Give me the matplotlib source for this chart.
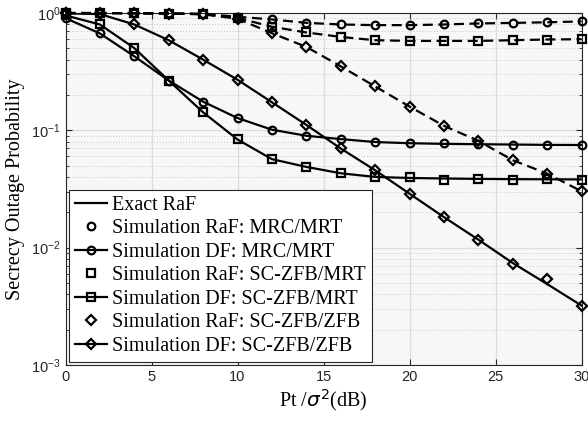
"""
Secrecy outage probability vs Pt/sigma^2
"""
import matplotlib
matplotlib.use("Agg")
import matplotlib.pyplot as plt
from matplotlib.lines import Line2D
from matplotlib.ticker import LogLocator, NullFormatter

plt.rcParams["font.family"] = ["Liberation Sans", "DejaVu Sans"]
plt.rcParams["mathtext.fontset"] = "dejavusans"

snr_db = [0, 2, 4, 6, 8, 10, 12, 14, 16, 18, 20, 22, 24, 26, 28, 30]

# RaF (lower, solid) - exact curve and simulation markers
raf_mrc_exact = [0.90, 0.667, 0.426, 0.265, 0.175, 0.127, 0.101, 0.0897, 0.084, 0.0793,
                 0.0775, 0.0765, 0.076, 0.0755, 0.075, 0.0748]
raf_mrc_sim = [0.90, 0.667, 0.426, 0.265, 0.175, 0.127, 0.101, 0.0897, 0.084, 0.0793,
               0.0773, 0.0773, 0.076, 0.0752, 0.0745, 0.0745]
raf_sczf_mrt_exact = [0.95, 0.795, 0.50, 0.265, 0.142, 0.0834, 0.0567, 0.0487, 0.043, 0.0400,
                      0.0392, 0.0388, 0.0385, 0.0383, 0.0382, 0.0381]
raf_sczf_mrt_sim = [0.95, 0.795, 0.50, 0.265, 0.142, 0.0834, 0.0567, 0.0487, 0.043, 0.0400,
                    0.0400, 0.0376, 0.0385, 0.0380, 0.0385, 0.0376]
raf_sczf_zfb_exact = [0.99, 0.975, 0.795, 0.584, 0.399, 0.269, 0.173, 0.111, 0.0699, 0.0456,
                      0.0288, 0.0182, 0.0117, 0.0074, 0.0049, 0.00321]
raf_sczf_zfb_sim = [0.99, 0.975, 0.795, 0.584, 0.399, 0.269, 0.173, 0.111, 0.0699, 0.0456,
                    0.0288, 0.0182, 0.0117, 0.00724, 0.00545, 0.00321]

# DF (upper, dashed)
df_mrc = [0.995, 0.995, 0.99, 0.99, 0.98, 0.925, 0.877, 0.821, 0.795, 0.785,
          0.785, 0.795, 0.811, 0.82, 0.83, 0.844]
df_sczf_mrt = [0.995, 0.995, 0.99, 0.985, 0.975, 0.905, 0.76, 0.68, 0.623, 0.584,
               0.576, 0.576, 0.576, 0.584, 0.592, 0.596]
df_sczf_zfb = [0.995, 0.995, 0.99, 0.985, 0.97, 0.89, 0.67, 0.512, 0.35, 0.236,
               0.159, 0.109, 0.0812, 0.0556, 0.0427, 0.0302]

legend_labels = ["Exact RaF",
                 "Simulation RaF: MRC/MRT",
                 "Simulation DF: MRC/MRT",
                 "Simulation RaF: SC-ZFB/MRT",
                 "Simulation DF: SC-ZFB/MRT",
                 "Simulation RaF: SC-ZFB/ZFB",
                 "Simulation DF: SC-ZFB/ZFB"]

fig = plt.figure(figsize=(5.88, 4.26), dpi=100)
ax = fig.add_axes([0.1114, 0.143, 0.8776, 0.827])
ax.set_facecolor("#f7f7f7")

lw = 1.6
ms = 5.5
mew = 1.6
dash = (4.5, 2.5)

# exact RaF curves
for y in (raf_mrc_exact, raf_sczf_mrt_exact, raf_sczf_zfb_exact):
    ax.plot(snr_db, y, color="black", lw=lw, zorder=3)

# RaF simulation markers
for y, m in ((raf_mrc_sim, "o"), (raf_sczf_mrt_sim, "s"), (raf_sczf_zfb_sim, "D")):
    ax.plot(snr_db, y, ls="none", marker=m, ms=ms if m != "D" else ms - 0.5, mfc="none",
            mec="black", mew=mew, zorder=4, clip_on=False)

# DF curves
for y, m in ((df_mrc, "o"), (df_sczf_mrt, "s"), (df_sczf_zfb, "D")):
    ax.plot(snr_db, y, color="black", lw=lw, dashes=dash, marker=m,
            ms=ms if m != "D" else ms - 0.5, mfc="none", mec="black", mew=mew,
            zorder=4, clip_on=False)

ax.set_yscale("log")
ax.set_xlim(0, 30)
ax.set_ylim(1e-3, 1)
ax.set_xticks([0, 5, 10, 15, 20, 25, 30])
ax.yaxis.set_major_locator(LogLocator(base=10, numticks=10))
ax.yaxis.set_minor_locator(LogLocator(base=10, subs=range(2, 10), numticks=10))
ax.yaxis.set_minor_formatter(NullFormatter())

ax.grid(True, which="major", color="#dcdcdc", lw=0.9, ls="-")
ax.grid(True, which="minor", axis="y", color="#c8c8c8", lw=0.7, ls=(0, (1, 2)))
ax.set_axisbelow(True)

ax.tick_params(which="both", direction="in", top=True, right=True, colors="#262626",
               labelsize=10.5, labelcolor="#262626")
ax.tick_params(which="major", length=4)
ax.tick_params(which="minor", length=2.5)
for s in ax.spines.values():
    s.set_color("#262626")
    s.set_linewidth(0.8)

ax.set_xlabel(r"Pt /$\sigma^2$(dB)", family="Liberation Serif", fontsize=14.5, labelpad=2)
ax.set_ylabel("Secrecy Outage Probability", family="Liberation Serif", fontsize=14.5, labelpad=4)

handles = [
    Line2D([], [], color="black", lw=lw),
    Line2D([], [], ls="none", marker="o", ms=ms, mfc="none", mec="black", mew=mew),
    Line2D([], [], color="black", lw=lw, marker="o", ms=ms, mfc="none", mec="black", mew=mew),
    Line2D([], [], ls="none", marker="s", ms=ms, mfc="none", mec="black", mew=mew),
    Line2D([], [], color="black", lw=lw, marker="s", ms=ms, mfc="none", mec="black", mew=mew),
    Line2D([], [], ls="none", marker="D", ms=ms - 0.5, mfc="none", mec="black", mew=mew),
    Line2D([], [], color="black", lw=lw, marker="D", ms=ms - 0.5, mfc="none", mec="black", mew=mew),
]
leg = ax.legend(handles, legend_labels, loc="lower left", prop={"family": "Liberation Serif", "size": 14.5},
                frameon=True, fancybox=False, framealpha=1, edgecolor="#262626",
                borderaxespad=0.15, borderpad=0.3, labelspacing=0.22,
                handlelength=1.6, handletextpad=0.25)
leg.get_frame().set_linewidth(0.8)
leg.set_zorder(10)

plt.savefig("out.png", dpi=100)
plt.close()
